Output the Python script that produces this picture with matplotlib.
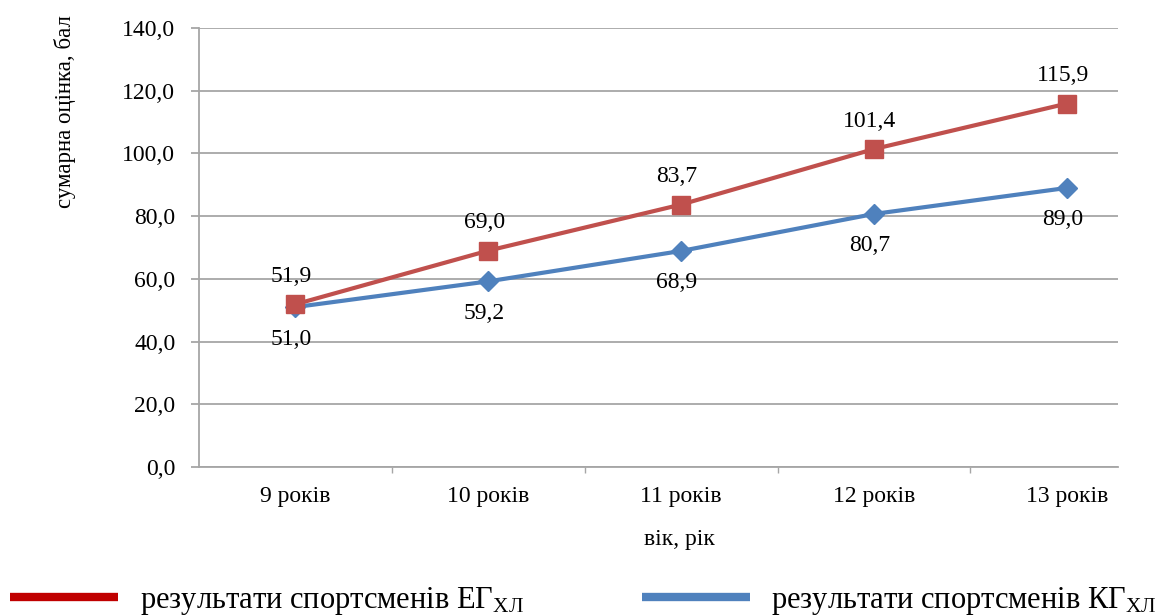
import matplotlib
matplotlib.use('Agg')
import matplotlib.pyplot as plt
from matplotlib.lines import Line2D

# data
categories = ['9 років', '10 років', '11 років', '12 років', '13 років']
eg_values = [51.9, 69.0, 83.7, 101.4, 115.9]
kg_values = [51.0, 59.2, 68.9, 80.7, 89.0]
y_ticks = [0, 20, 40, 60, 80, 100, 120, 140]

plt.rcParams['font.family'] = ['Liberation Serif', 'DejaVu Serif']
plt.rcParams['mathtext.fontset'] = 'custom'
plt.rcParams['mathtext.rm'] = 'Liberation Serif'
plt.rcParams['mathtext.it'] = 'Liberation Serif'

W, H = 1175, 616
fig = plt.figure(figsize=(W / 100, H / 100), dpi=100)
ax = fig.add_axes([199 / W, 1 - 467 / H, (1118 - 199) / W, (467 - 28) / H])

red = '#C0504D'
blue = '#4F81BD'
grid_c = '#A6A6A6'

x = list(range(len(categories)))
ax.plot(x, kg_values, color=blue, lw=3, marker='D', ms=10, zorder=3)
ax.plot(x, eg_values, color=red, lw=3, marker='s', ms=13, zorder=4)

for i in x:
    ax.annotate(f'{eg_values[i]:.1f}'.replace('.', ','), (i, eg_values[i]),
                xytext=(-3, 20), textcoords='offset points',
                ha='center', va='center', fontsize=17)
    ax.annotate(f'{kg_values[i]:.1f}'.replace('.', ','), (i, kg_values[i]),
                xytext=(-3, -23), textcoords='offset points',
                ha='center', va='center', fontsize=17)

ax.set_xlim(-0.5, 4.265)
ax.set_ylim(0, 140)
ax.set_yticks(y_ticks)
ax.set_yticklabels([f'{v:.1f}'.replace('.', ',') for v in y_ticks], fontsize=17)
ax.set_xticks(x)
ax.set_xticklabels(categories, fontsize=17)
ax.set_xticks([i + 0.5 for i in x[:-1]], minor=True)

ax.grid(axis='y', color=grid_c, lw=1.3)
ax.set_axisbelow(True)
for s in ['top', 'right']:
    ax.spines[s].set_visible(False)
for s in ['left', 'bottom']:
    ax.spines[s].set_color(grid_c)
    ax.spines[s].set_linewidth(1.3)
ax.tick_params(axis='y', length=6, width=1.3, color=grid_c, pad=11)
ax.tick_params(axis='x', which='major', length=0, pad=14)
ax.tick_params(axis='x', which='minor', length=4, width=1, color=grid_c)

fig.text(65 / W, 1 - 112 / H, 'сумарна оцінка, бал', rotation=90,
         ha='center', va='center', fontsize=16.5)
fig.text(679 / W, 1 - 540 / H, 'вік, рік', ha='center', va='center', fontsize=17)

handles = [Line2D([], [], color='#C00000', lw=6, solid_capstyle='butt'),
           Line2D([], [], color=blue, lw=6, solid_capstyle='butt')]
labels = ['результати спортсменів ЕГ$_{\\mathrm{ХЛ}}$',
          'результати спортсменів КГ$_{\\mathrm{ХЛ}}$']
fig.legend(handles, labels, loc='center left', bbox_to_anchor=(10 / W, 15 / H),
           ncol=2, frameon=False, fontsize=22, handlelength=3.55,
           handletextpad=0.7, columnspacing=3.85, borderpad=0, borderaxespad=0)

fig.savefig('out.png', dpi=100)
